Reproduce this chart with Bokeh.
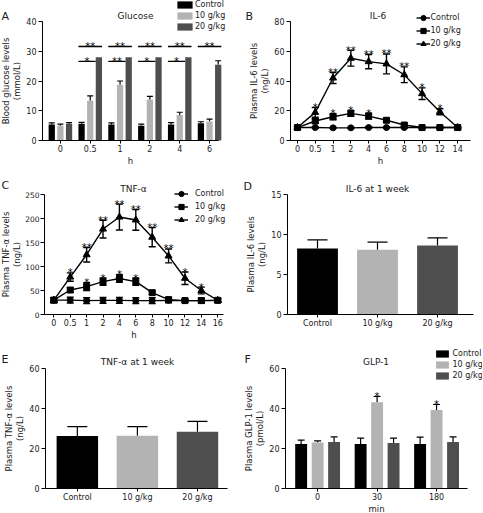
from bokeh.plotting import figure
from bokeh.models import (ColumnDataSource, Whisker, TeeHead, FixedTicker, Legend,
                          LegendItem, Label, Range1d)
from bokeh.layouts import column, row
from bokeh.core.properties import value
from bokeh.embed import file_html
from bokeh.resources import INLINE

FONT = "DejaVu Sans"
INK = "#1a1a1a"

series_names = ["Control", "10 g/kg", "20 g/kg"]
bar_colors = ["#000000", "#b3b3b3", "#4e4e4e"]

# ---------------- A: Glucose ----------------
glu_hours = ["0", "0.5", "1", "2", "4", "6"]
glu_ctrl = [5.4, 5.6, 5.4, 5.0, 5.4, 5.8]
glu_ctrl_err = [0.5, 0.5, 0.5, 0.5, 0.6, 0.5]
glu_10 = [5.0, 13.4, 18.7, 13.7, 8.6, 6.4]
glu_10_err = [0.5, 1.6, 1.3, 1.1, 0.9, 0.8]
glu_20 = [5.6, 28.0, 28.0, 28.0, 28.0, 25.5]
glu_20_err = [0.4, 0.0, 0.0, 0.0, 0.0, 1.3]
glu_sig_all = ["", "**", "**", "**", "**", "**"]
glu_sig_10 = ["", "*", "**", "*", "*", ""]
glu_yticks = [0, 10, 20, 30, 40]

# ---------------- B: IL-6 ----------------
il6_hours = ["0", "0.5", "1", "2", "4", "6", "8", "10", "12", "14"]
il6_ctrl = [8.7, 8.7, 8.5, 8.5, 8.7, 8.7, 8.7, 8.7, 8.7, 8.7]
il6_ctrl_err = [0.6, 0.5, 0.5, 0.5, 0.5, 0.5, 0.5, 0.5, 0.5, 0.5]
il6_10 = [8.7, 13.1, 16.0, 18.2, 16.4, 13.6, 10.4, 8.7, 8.7, 8.7]
il6_10_err = [0.6, 1.6, 2.0, 2.0, 2.0, 1.0, 1.0, 0.6, 0.5, 0.5]
il6_20 = [8.7, 18.9, 42.0, 55.3, 53.0, 51.5, 44.2, 31.5, 19.3, 8.7]
il6_20_err = [0.6, 3.3, 3.7, 5.3, 4.8, 6.7, 5.3, 3.9, 2.0, 0.5]
il6_sig_10 = ["", "", "*", "*", "*", "", "", "", "", ""]
il6_sig_20 = ["", "*", "**", "**", "**", "**", "**", "*", "*", ""]
il6_yticks = [0, 20, 40, 60, 80]

# ---------------- C: TNF-alpha ----------------
tnf_hours = ["0", "0.5", "1", "2", "4", "6", "8", "10", "12", "14", "16"]
tnf_ctrl = [30, 30, 29, 29.5, 29.5, 29, 29, 29.5, 29, 29, 29.5]
tnf_ctrl_err = [5, 6, 6, 6, 6, 6, 6, 5, 3, 5, 4]
tnf_10 = [30, 51, 58, 68.5, 75, 68.5, 45.5, 31, 29, 29, 29.5]
tnf_10_err = [5, 5, 8, 7.5, 8, 7.5, 3, 4, 2, 3, 3]
tnf_20 = [30, 78, 124.5, 178, 203, 197, 161, 122, 75.5, 50, 29.5]
tnf_20_err = [5, 8.7, 15, 18.5, 27, 21.5, 20, 14.5, 13, 7, 3]
tnf_sig_10 = ["", "", "*", "*", "*", "*", "", "", "", "", ""]
tnf_sig_20 = ["", "*", "**", "**", "**", "**", "**", "**", "*", "*", ""]
tnf_yticks = [0, 50, 100, 150, 200, 250]

# ---------------- D: IL-6 at 1 week ----------------
wk_il6 = [8.25, 8.08, 8.63]
wk_il6_err = [1.08, 0.96, 0.95]
wk_il6_yticks = [0, 5, 10, 15]

# ---------------- E: TNF-alpha at 1 week ----------------
wk_tnf = [26.2, 26.4, 28.4]
wk_tnf_err = [4.7, 4.5, 5.2]
wk_tnf_yticks = [0, 20, 40, 60]

# ---------------- F: GLP-1 ----------------
glp_min = ["0", "30", "180"]
glp_ctrl = [22.2, 22.3, 22.3]
glp_ctrl_err = [2.0, 2.9, 3.4]
glp_10 = [23.0, 43.1, 39.3]
glp_10_err = [0.8, 2.9, 2.7]
glp_20 = [23.2, 22.8, 23.2]
glp_20_err = [2.6, 2.4, 2.6]
glp_sig_10 = ["", "*", "*"]
glp_yticks = [0, 20, 40, 60]


def setup(ox, oy, w, h, L, R, T, B, xr, yr, xlab, ylab, xlabels, yticks):
    """Frame covers the whole canvas; axes are pinned so that the data box
    [xr] x [yr] sits at page pixels L..R, T..B."""
    sx = (xr[1] - xr[0]) / (R - L)
    sy = (yr[1] - yr[0]) / (B - T)
    x0 = xr[0] - (L - ox) * sx
    x1 = xr[1] + (ox + w - R) * sx
    y0 = yr[0] - (oy + h - B) * sy
    y1 = yr[1] + (T - oy) * sy
    p = figure(width=w, height=h, x_range=Range1d(x0, x1), y_range=Range1d(y0, y1),
               output_backend="svg", toolbar_location=None, tools="", min_border=0)
    p.title.text = ""
    p.title.visible = False
    p.outline_line_color = None
    p.grid.visible = False
    p.background_fill_color = "white"
    p.border_fill_color = "white"
    p.xaxis.ticker = FixedTicker(ticks=list(range(len(xlabels))))
    p.xaxis.major_label_overrides = {i: t for i, t in enumerate(xlabels)}
    p.yaxis.ticker = FixedTicker(ticks=yticks)
    p.xaxis.fixed_location = yr[0]
    p.yaxis.fixed_location = xr[0]
    p.xaxis.bounds = (xr[0], xr[1])
    p.yaxis.bounds = (yr[0], yr[1])
    if xlab:
        p.xaxis.axis_label = xlab
    p.yaxis.axis_label = ylab
    for ax in p.axis:
        ax.axis_line_color = "black"
        ax.axis_line_width = 1
        ax.major_tick_line_color = "black"
        ax.major_tick_in = 0
        ax.minor_tick_line_color = None
        ax.major_label_text_font = FONT
        ax.major_label_text_font_size = "8px"
        ax.major_label_text_color = INK
        ax.axis_label_text_font = FONT
        ax.axis_label_text_font_size = "8.5px"
        ax.axis_label_text_font_style = "normal"
        ax.axis_label_text_color = INK
        ax.axis_label_text_line_height = 1.1
        ax.axis_label_standoff = 1
    p.yaxis.major_tick_out = 4
    p.yaxis.major_label_standoff = 2
    p.xaxis.major_tick_out = 3
    p.xaxis.major_label_standoff = 1
    geom = dict(L=L, R=R, T=T, B=B, xr=xr, yr=yr, ox=ox, oy=oy, w=w, h=h)
    return p, geom


def to_data(g, px, py):
    x = g["xr"][0] + (px - g["L"]) * (g["xr"][1] - g["xr"][0]) / (g["R"] - g["L"])
    y = g["yr"][0] + (g["B"] - py) * (g["yr"][1] - g["yr"][0]) / (g["B"] - g["T"])
    return x, y


def put_text(p, g, text, px, py, size, align):
    x, y = to_data(g, px, py)
    p.add_layout(Label(x=x, y=y, text=text, text_font=FONT, text_font_size=size,
                       text_align=align, text_baseline="alphabetic", text_color=INK))


def stars(p, xs, ys, labels):
    src = ColumnDataSource(dict(x=xs, y=ys, t=labels))
    p.text(x="x", y="y", text="t", source=src, text_font=value(FONT),
           text_font_size="10px", text_align="center", text_baseline="alphabetic",
           text_color="black")


def bars(p, xs, tops, errs, color, width, cap):
    src = ColumnDataSource(dict(x=xs, top=tops))
    r = p.vbar(x="x", top="top", bottom=0, width=width, source=src,
               fill_color=color, line_color=None)
    keep = [i for i in range(len(xs)) if errs[i] > 0]
    wsrc = ColumnDataSource(dict(x=[xs[i] for i in keep], lo=[tops[i] for i in keep],
                                 hi=[tops[i] + errs[i] for i in keep]))
    p.add_layout(Whisker(base="x", lower="lo", upper="hi", source=wsrc,
                         line_color="black", line_width=1.2, lower_head=None,
                         upper_head=TeeHead(size=cap, line_color="black", line_width=1.2)))
    return r


def series(p, ys, errs, marker, size, cap):
    xs = list(range(len(ys)))
    src = ColumnDataSource(dict(x=xs, y=ys, lo=[a - b for a, b in zip(ys, errs)],
                                hi=[a + b for a, b in zip(ys, errs)]))
    lr = p.line("x", "y", source=src, line_color="black", line_width=1.4)
    sr = p.scatter("x", "y", source=src, marker=marker, size=size,
                   fill_color="black", line_color="black")
    p.add_layout(Whisker(base="x", lower="lo", upper="hi", source=src,
                         line_color="black", line_width=1.4,
                         lower_head=TeeHead(size=cap, line_color="black", line_width=1.4),
                         upper_head=TeeHead(size=cap, line_color="black", line_width=1.4)))
    return lr, sr


def legend(p, g, items, left_px, bottom_px, gw, gh, lh, spacing, standoff):
    loc = (left_px - g["ox"], g["oy"] + g["h"] - bottom_px)
    leg = Legend(items=items, location=loc,
                 orientation="vertical", glyph_width=gw, glyph_height=gh,
                 label_height=lh, label_width=10, spacing=spacing, padding=0, margin=0,
                 label_standoff=standoff, label_text_font=FONT,
                 label_text_font_size="8px", label_text_baseline="middle",
                 label_text_color=INK,
                 border_line_color=None, background_fill_alpha=0)
    p.add_layout(leg)


# ---------- Panel A ----------
pA, gA = setup(0, 0, 240, 170, 42, 218, 21, 140, (-0.6, 5.3), (0, 40), "h",
               "Blood glucose levels\n(mmol/L)", glu_hours, glu_yticks)
offs = [-0.29, 0.0, 0.29]
bw = 0.21
n = len(glu_hours)
up_y = 31.6
lo_y = 26.6
ux0, ux1, lx0, lx1, uy, ly, usx, lsx, ut, lt = [], [], [], [], [], [], [], [], [], []
for i in range(n):
    if glu_sig_all[i]:
        ux0.append(i + offs[0] - bw / 2); ux1.append(i + offs[2] + bw / 2); uy.append(up_y)
        usx.append(i); ut.append(glu_sig_all[i])
    if glu_sig_10[i]:
        lx0.append(i + offs[0] - bw / 2); lx1.append(i + offs[2] - bw / 2); ly.append(lo_y)
        lsx.append(i + (offs[0] + offs[2] - bw) / 2); lt.append(glu_sig_10[i])
pA.segment(x0=ux0, y0=uy, x1=ux1, y1=uy, line_color="black", line_width=1.4)
pA.segment(x0=lx0, y0=ly, x1=lx1, y1=ly, line_color="black", line_width=1.4)
rA = []
for k, (m, e) in enumerate([(glu_ctrl, glu_ctrl_err), (glu_10, glu_10_err), (glu_20, glu_20_err)]):
    rA.append(bars(pA, [i + offs[k] for i in range(n)], m, e, bar_colors[k], bw, 6))
stars(pA, usx, uy, ut)
stars(pA, lsx, ly, lt)
legend(pA, gA, [LegendItem(label=value(s), renderers=[r]) for s, r in zip(series_names, rA)],
       175, 31, 19, 9, 9, 2, 1)
put_text(pA, gA, "A", 1, 15.5, "11px", "left")
put_text(pA, gA, "Glucose", 135, 15, "9px", "center")

# ---------- Panel B ----------
pB, gB = setup(240, 0, 242, 170, 290, 470, 21, 140, (-0.39, 9.72), (0, 80), "h",
               "Plasma IL-6 levels\n(ng/L)", il6_hours, il6_yticks)
rB = [series(pB, il6_ctrl, il6_ctrl_err, "circle", 6, 7),
      series(pB, il6_10, il6_10_err, "square", 6, 7),
      series(pB, il6_20, il6_20_err, "triangle", 7, 7)]
stars(pB, list(range(len(il6_hours))), [a + b for a, b in zip(il6_10, il6_10_err)], il6_sig_10)
stars(pB, list(range(len(il6_hours))), [a + b for a, b in zip(il6_20, il6_20_err)], il6_sig_20)
legend(pB, gB, [LegendItem(label=value(s), renderers=list(r)) for s, r in zip(series_names, rB)],
       415.5, 49.5, 14, 13, 8, 0, 1)
put_text(pB, gB, "B", 245, 15.5, "11px", "left")
put_text(pB, gB, "IL-6", 377.5, 15, "9px", "center")

# ---------- Panel C ----------
pC, gC = setup(0, 170, 240, 170, 44, 223, 194, 314, (-0.57, 10.35), (0, 250), "h",
               "Plasma TNF-α levels\n(ng/L)", tnf_hours, tnf_yticks)
pC.yaxis.major_label_standoff = 1
pC.yaxis.major_label_text_font_size = "7.5px"
pC.yaxis.axis_label_standoff = 0
rC = [series(pC, tnf_ctrl, tnf_ctrl_err, "circle", 6, 7),
      series(pC, tnf_10, tnf_10_err, "square", 6, 7),
      series(pC, tnf_20, tnf_20_err, "triangle", 7, 7)]
stars(pC, list(range(len(tnf_hours))), [a + b for a, b in zip(tnf_10, tnf_10_err)], tnf_sig_10)
stars(pC, list(range(len(tnf_hours))), [a + b for a, b in zip(tnf_20, tnf_20_err)], tnf_sig_20)
legend(pC, gC, [LegendItem(label=value(s), renderers=list(r)) for s, r in zip(series_names, rC)],
       174, 225.5, 14, 13, 8, 0, 7)
put_text(pC, gC, "C", 1, 185, "11px", "left")
put_text(pC, gC, "TNF-α", 133, 188, "9px", "center")

# ---------- Panel D ----------
pD, gD = setup(240, 170, 242, 170, 287, 473, 194, 314, (-0.5, 2.6), (0, 15), "",
               "Plasma IL-6 levels\n(ng/L)", series_names, wk_il6_yticks)
for k in range(3):
    bars(pD, [k], [wk_il6[k]], [wk_il6_err[k]], bar_colors[k], 0.68, 20)
put_text(pD, gD, "D", 243, 186, "11px", "left")
put_text(pD, gD, "IL-6 at 1 week", 377, 188, "9px", "center")

# ---------- Panel E ----------
pE, gE = setup(0, 340, 240, 172, 45, 227, 368, 488, (-0.53, 2.5), (0, 60), "",
               "Plasma TNF-α levels\n(ng/L)", series_names, wk_tnf_yticks)
for k in range(3):
    bars(pE, [k], [wk_tnf[k]], [wk_tnf_err[k]], bar_colors[k], 0.69, 20)
put_text(pE, gE, "E", 1, 359, "11px", "left")
put_text(pE, gE, "TNF-α at 1 week", 137, 361.5, "9px", "center")

# ---------- Panel F ----------
pF, gF = setup(240, 340, 242, 172, 285, 467, 368, 488, (-0.54, 2.52), (0, 60), "min",
               "Plasma GLP-1 levels\n(pmol/L)", glp_min, glp_yticks)
offF = [-0.277, 0.0, 0.277]
rF = []
for k, (m, e) in enumerate([(glp_ctrl, glp_ctrl_err), (glp_10, glp_10_err), (glp_20, glp_20_err)]):
    rF.append(bars(pF, [i + offF[k] for i in range(len(glp_min))], m, e, bar_colors[k], 0.2, 7))
stars(pF, [i + offF[1] for i in range(len(glp_min))], [a + b for a, b in zip(glp_10, glp_10_err)], glp_sig_10)
legend(pF, gF, [LegendItem(label=value(s), renderers=[r]) for s, r in zip(series_names, rF)],
       433.5, 380, 16, 9, 9, 2, 3)
put_text(pF, gF, "F", 244, 359, "11px", "left")
put_text(pF, gF, "GLP-1", 375.5, 361.5, "9px", "center")

layout = column(row(pA, pB), row(pC, pD), row(pE, pF))
open("out.html", "w").write(file_html(layout, INLINE))
